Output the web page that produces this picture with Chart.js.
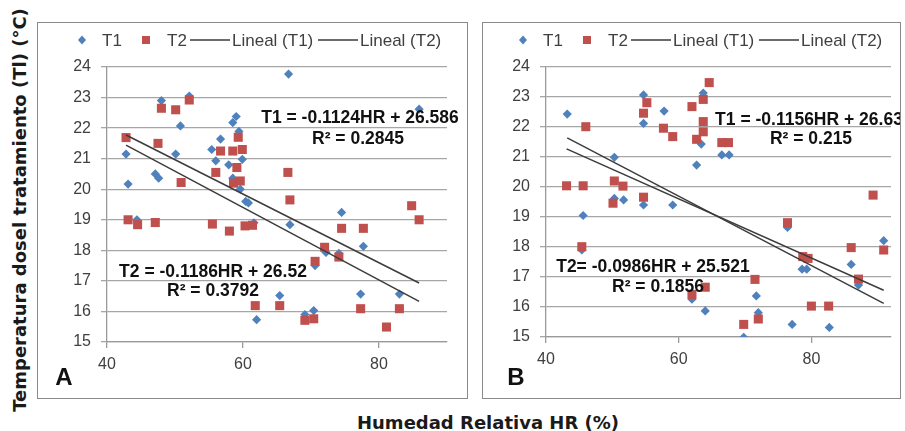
<!DOCTYPE html>
<html>
<head>
<meta charset="utf-8">
<script src="https://cdn.jsdelivr.net/npm/chart.js@4.4.1/dist/chart.umd.min.js"></script>
<style>
    body { margin: 0; background: #fff; width: 905px; height: 431px; position: relative; overflow: hidden; }
    .panel { position: absolute; top: 22px; height: 377px; border: 1px solid #8a8a8a; box-sizing: border-box; }
    #pA { left: 37px; width: 431px; }
    #pB { left: 482px; width: 419px; }
    #ytitulo {
        position: absolute; left: 19px; top: 210px;
        transform: translate(-50%, -50%) rotate(-90deg);
        white-space: nowrap; font: bold 18px "DejaVu Sans", sans-serif; color: #1a1a1a;
    }
    #xtitulo {
        position: absolute; left: 488px; top: 422px;
        transform: translate(-50%, -50%);
        white-space: nowrap; font: bold 18px "DejaVu Sans", sans-serif; color: #1a1a1a;
    }
</style>
</head>
<body>
<div id="ytitulo">Temperatura dosel tratamiento (Tl) (°C)</div>
<div class="panel" id="pA"><canvas id="graficoA"></canvas></div>
<div class="panel" id="pB"><canvas id="graficoB"></canvas></div>
<div id="xtitulo">Humedad Relativa HR (%)</div>

<script>
// Marcas de los ejes
var ticksX = [40, 60, 80];
var ticksY = [15, 16, 17, 18, 19, 20, 21, 22, 23, 24];

// Panel A - humedad relativa (HR) y temperatura (Tl)
var hrA_T1 = [42.8, 43.1, 44.4, 47.1, 47.6, 48.0, 50.1, 50.8, 52.1, 55.4, 56.0, 56.7, 57.9, 58.5, 59.0, 59.4, 59.9, 58.5,
              59.6, 60.4, 60.8, 61.6, 62.0, 65.4, 66.7, 66.9, 69.1, 70.4, 70.6, 72.2, 74.1, 74.5, 77.3, 77.7, 83.0, 85.9];
var tA_T1  = [21.15, 20.17, 19.0, 20.5, 20.36, 22.9, 21.15, 22.07, 23.05, 21.3, 20.93, 21.64, 20.8, 22.18, 22.38, 21.89, 20.98, 20.36,
              20.0, 19.6, 19.55, 18.9, 15.73, 16.52, 23.77, 18.84, 15.9, 16.03, 17.5, 17.93, 17.9, 19.24, 16.57, 18.13, 16.57, 22.62];
var hrA_T2 = [42.8, 43.1, 44.5, 47.1, 47.5, 48.0, 50.1, 50.9, 52.1, 55.5, 56.0, 56.7, 58.0, 58.5, 58.6, 59.1, 59.3, 59.6, 59.9,
              60.3, 61.4, 61.8, 65.4, 66.6, 66.9, 69.1, 70.4, 70.6, 72.0, 74.1, 74.5, 77.3, 77.7, 81.1, 83.0, 84.8, 85.9];
var tA_T2  = [21.69, 19.0, 18.84, 18.91, 21.5, 22.65, 22.6, 20.22, 22.92, 18.86, 20.55, 21.25, 18.63, 21.25, 20.2, 20.71, 21.7, 20.27, 21.3,
              18.8, 18.82, 16.19, 16.19, 20.55, 19.65, 15.71, 15.76, 17.64, 18.1, 17.78, 18.72, 16.09, 18.72, 15.49, 16.09, 19.46, 19.0];

// Panel B
var hrB_T1 = [43.2, 45.4, 45.6, 50.3, 50.3, 51.7, 54.7, 54.7, 54.7, 57.8, 59.1, 62.0, 62.7, 63.4, 63.7, 64.0, 66.5, 67.6,
              69.8, 71.7, 72.0, 76.4, 77.1, 78.6, 79.3, 82.7, 86.0, 87.1, 90.9];
var tB_T1  = [22.43, 17.9, 19.05, 20.99, 19.62, 19.57, 23.07, 22.12, 19.4, 22.53, 19.4, 16.26, 20.73, 21.43, 23.13, 15.87, 21.07, 21.07,
              14.99, 16.37, 15.81, 18.65, 15.42, 17.26, 17.26, 15.32, 17.42, 16.73, 18.21];
var hrB_T2 = [43.1, 45.4, 45.6, 46.0, 50.1, 50.3, 51.6, 54.7, 54.7, 55.2, 57.7, 59.1, 62.0, 62.0, 62.7, 63.7, 63.7, 63.7, 64.0,
              64.6, 66.5, 67.5, 69.8, 71.5, 72.0, 76.4, 78.7, 79.5, 80.0, 82.6, 86.0, 87.1, 89.3, 90.9];
var tB_T2  = [20.04, 18.01, 20.04, 22.01, 19.46, 20.2, 20.03, 19.66, 22.46, 22.81, 21.96, 21.68, 22.68, 16.42, 21.59, 22.92, 22.18, 21.84, 16.66,
              23.48, 21.48, 21.48, 15.42, 16.92, 15.6, 18.81, 17.68, 17.62, 16.03, 16.03, 17.98, 16.93, 19.73, 17.9];

// Rectas de regresión (pendiente, ordenada)
var rectaA_T1 = [-0.1124, 26.586];
var rectaA_T2 = [-0.1186, 26.52];
var rectaB_T1 = [-0.1156, 26.63];
var rectaB_T2 = [-0.0986, 25.521];

var AZUL = '#4F81BD';
var ROJO = '#C0504D';
var LINEA = '#3c3c3c';

function puntos(xs, ys) {
    return xs.map(function (x, i) { return { x: x, y: ys[i] }; });
}

// Extremos de la recta entre el mínimo y máximo de HR
function recta(xs, coef) {
    var x0 = Math.min.apply(null, xs), x1 = Math.max.apply(null, xs);
    return [{ x: x0, y: coef[0] * x0 + coef[1] }, { x: x1, y: coef[0] * x1 + coef[1] }];
}

// Plugin para leyenda, ecuaciones y letra del panel
var notasPlugin = {
    id: 'notas',
    afterDraw: function (chart, args, opts) {
        var ctx = chart.ctx;
        ctx.save();
        var lx = opts.leyendaX, ly = opts.leyendaY;
        ctx.font = '17px "Liberation Sans", Arial, sans-serif';
        ctx.textBaseline = 'middle';
        ctx.textAlign = 'left';

        // rombo
        ctx.fillStyle = AZUL;
        ctx.beginPath();
        ctx.moveTo(lx - 4, ly); ctx.lineTo(lx, ly - 4.5); ctx.lineTo(lx + 4, ly); ctx.lineTo(lx, ly + 4.5);
        ctx.closePath(); ctx.fill();
        // cuadrado
        ctx.fillStyle = ROJO;
        ctx.fillRect(lx + 60, ly - 4, 8, 8);

        ctx.fillStyle = '#404040';
        ctx.fillText('T1', lx + 20, ly + 1);
        ctx.fillText('T2', lx + 85, ly + 1);
        ctx.fillText('Lineal (T1)', lx + 150, ly + 1);
        ctx.fillText('Lineal (T2)', lx + 278, ly + 1);

        ctx.strokeStyle = LINEA;
        ctx.lineWidth = 1.5;
        ctx.beginPath();
        ctx.moveTo(lx + 108, ly); ctx.lineTo(lx + 148, ly);
        ctx.moveTo(lx + 236, ly); ctx.lineTo(lx + 276, ly);
        ctx.stroke();

        // ecuaciones
        ctx.font = 'bold 17.5px "Liberation Sans", Arial, sans-serif';
        ctx.fillStyle = '#111';
        ctx.textAlign = 'center';
        opts.textos.forEach(function (t) {
            ctx.fillText(t[0], t[1], t[2]);
        });

        // letra del panel
        ctx.font = 'bold 24px "Liberation Sans", Arial, sans-serif';
        ctx.fillText(opts.letra[0], opts.letra[1], opts.letra[2]);
        ctx.restore();
    }
};

function crearGrafico(id, hr1, t1, hr2, t2, c1, c2, xMax, margen, notas) {
    var ctx = document.getElementById(id).getContext('2d');
    return new Chart(ctx, {
        type: 'scatter',
        data: {
            datasets: [
                { type: 'line', label: 'Lineal (T1)', data: recta(hr1, c1), borderColor: LINEA, borderWidth: 1.5, pointRadius: 0, fill: false },
                { type: 'line', label: 'Lineal (T2)', data: recta(hr2, c2), borderColor: LINEA, borderWidth: 1.5, pointRadius: 0, fill: false },
                { label: 'T2', data: puntos(hr2, t2), pointStyle: 'rect', pointRadius: 6.4, backgroundColor: ROJO, borderWidth: 0 },
                { label: 'T1', data: puntos(hr1, t1), pointStyle: 'rectRot', pointRadius: 4.6, backgroundColor: AZUL, borderWidth: 0 }
            ]
        },
        options: {
            responsive: true,
            maintainAspectRatio: false,
            animation: false,
            events: [],
            layout: { padding: { top: 44, right: margen.derecha, left: 0, bottom: 0 } },
            plugins: {
                legend: { display: false },
                tooltip: { enabled: false },
                notas: notas
            },
            scales: {
                x: {
                    type: 'linear', min: 40, max: xMax,
                    afterBuildTicks: function (s) { s.ticks = ticksX.map(function (v) { return { value: v }; }); },
                    afterFit: function (s) { s.height = margen.abajo; },
                    grid: { drawOnChartArea: false, drawTicks: true, tickLength: 6, color: '#9a9a9a', lineWidth: 1.3 },
                    border: { color: '#9a9a9a', width: 1.3 },
                    ticks: { color: '#404040', padding: 7, maxRotation: 0, font: { family: '"Liberation Sans", Arial', size: 16 } }
                },
                y: {
                    min: 15, max: 24,
                    afterBuildTicks: function (s) { s.ticks = ticksY.map(function (v) { return { value: v }; }); },
                    afterFit: function (s) { s.width = margen.izquierda; },
                    grid: { drawTicks: true, tickLength: 6, color: '#a6a6a6', lineWidth: 1.3 },
                    border: { color: '#9a9a9a', width: 1.3 },
                    ticks: { color: '#404040', padding: 10, font: { family: '"Liberation Sans", Arial', size: 16 } }
                }
            }
        },
        plugins: [notasPlugin]
    });
}

crearGrafico('graficoA', hrA_T1, tA_T1, hrA_T2, tA_T2, rectaA_T1, rectaA_T2, 90,
    { izquierda: 69, derecha: 20, abajo: 56 },
    {
        leyendaX: 44, leyendaY: 17,
        textos: [
            ['T1 = -0.1124HR + 26.586', 322, 95],
            ['R\u00B2 = 0.2845', 320, 116],
            ['T2 = -0.1186HR + 26.52', 175, 249],
            ['R\u00B2 = 0.3792', 175, 268]
        ],
        letra: ['A', 26, 355]
    });

crearGrafico('graficoB', hrB_T1, tB_T1, hrB_T2, tB_T2, rectaB_T1, rectaB_T2, 92,
    { izquierda: 63, derecha: 9, abajo: 61 },
    {
        leyendaX: 40, leyendaY: 17,
        textos: [
            ['T1 = -0.1156HR + 26.63', 326, 97],
            ['R\u00B2 = 0.215', 328, 116],
            ['T2= -0.0986HR + 25.521', 170, 244],
            ['R\u00B2 = 0.1856', 175, 264]
        ],
        letra: ['B', 33, 355]
    });
</script>
</body>
</html>
